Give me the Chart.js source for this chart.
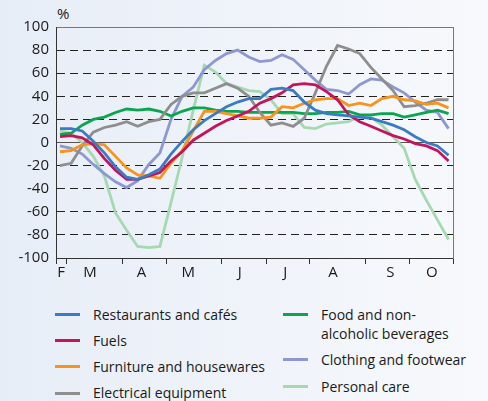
<!DOCTYPE html>
<html>
<head>
<meta charset="utf-8">
<script src="https://cdn.jsdelivr.net/npm/chart.js@4"></script>
<style>
  html, body { margin: 0; padding: 0; }
  body {
    width: 488px; height: 401px; overflow: hidden; position: relative;
    background: linear-gradient(to right, #e7edf7, #f7f9fc);
    font-family: "Open Sans", sans-serif; color: #1a1a1a;
  }
  #chart { position: absolute; left: 0; top: 0; }
  #unit { position: absolute; left: 57px; top: 3px; font-size: 15px; }
  .col { position: absolute; top: 304.6px; }
  .item { position: relative; font-size: 14px; line-height: 19.4px; margin-bottom: 6.9px; white-space: nowrap; }
  .swatch { position: absolute; top: 8.2px; height: 3px; width: 25px; }
</style>
</head>
<body>
<div id="unit">%</div>
<canvas id="chart" width="488" height="290"></canvas>
<div class="col" id="col1" style="left:55px"></div>
<div class="col" id="col2" style="left:283px"></div>
<script>
// weekly index, Feb to Oct
const weeks = Array.from({ length: 36 }, (_, i) => i);
const monthNames = ['F', 'M', 'A', 'M', 'J', 'J', 'A', 'S', 'O'];
const monthEdges = [-0.36, 0.63, 5.59, 9.56, 14.52, 18.58, 22.45, 27.5, 31.47, 35.4];
const monthMids = [0.1, 2.7, 7.35, 11.55, 16.2, 20.3, 24.6, 29.75, 33.5];

const restaurants = [12, 12, 10, 1, -9, -21, -30, -32, -28, -23, -10, 1, 11, 19, 25, 31, 35, 38, 38, 46,
  47, 45, 35, 28, 25, 24, 23, 22, 21, 18, 15, 11, 5, 0, -3, -11];
const fuels = [5, 6, 4, -2, -14, -24, -32, -32, -29, -26, -16, -8, 2, 8, 14, 19, 23, 27, 34, 38,
  43, 50, 51, 50, 44, 37, 24, 18, 14, 10, 6, 3, -1, -3, -7, -16];
const furniture = [-8, -7, -2, -1, -2, -12, -22, -28, -29, -31, -18, -7, 10, 27, 27, 25, 23, 21, 21, 22,
  31, 30, 34, 37, 38, 38, 32, 34, 32, 38, 40, 37, 36, 33, 34, 30];
const electrical = [-20, -18, -3, 9, 13, 15, 18, 14, 18, 20, 33, 40, 43, 43, 47, 51, 47, 40, 26, 15,
  17, 14, 21, 43, 66, 84, 81, 77, 65, 55, 45, 31, 32, 34, 37, 37];
const food = [7, 8, 15, 20, 22, 26, 29, 28, 29, 27, 23, 27, 30, 30, 28, 27, 27, 26, 26, 26,
  26, 26, 25, 25, 26, 26, 27, 24, 24, 25, 25, 22, 24, 26, 28, 25];
const clothing = [-3, -5, -10, -19, -27, -34, -39, -33, -19, -9, 20, 40, 48, 63, 71, 77, 80, 74, 70, 71,
  76, 72, 63, 54, 46, 45, 42, 50, 55, 54, 48, 43, 35, 28, 26, 12];
const personalCare = [10, 8, 0, -12, -29, -61, -76, -90, -91, -90, -52, -13, 28, 67, 61, 51, 48, 45, 44, 37,
  25, 25, 13, 12, 16, 17, 18, 23, 22, 15, 5, -5, -32, -50, -67, -84];

const series = [
  { label: ['Restaurants and cafés'], values: restaurants, color: '#3a7cc3', col: 'col1' },
  { label: ['Fuels'], values: fuels, color: '#c4145c', col: 'col1' },
  { label: ['Furniture and housewares'], values: furniture, color: '#f7941d', col: 'col1' },
  { label: ['Electrical equipment'], values: electrical, color: '#8e8e8e', col: 'col1' },
  { label: ['Food and non-', 'alcoholic beverages'], values: food, color: '#0aa64f', col: 'col2' },
  { label: ['Clothing and footwear'], values: clothing, color: '#8e98d0', col: 'col2' },
  { label: ['Personal care'], values: personalCare, color: '#a6d9b1', col: 'col2' }
];

const textColor = '#1a1a1a';
const tickFont = { family: 'Open Sans', size: 15 };

new Chart(document.getElementById('chart'), {
  type: 'line',
  data: {
    datasets: series.map(s => ({
      label: s.label.join(''),
      data: s.values.map((v, i) => ({ x: weeks[i], y: v })),
      borderColor: s.color,
      borderWidth: 2.8,
      pointRadius: 0,
      tension: 0,
      fill: false
    }))
  },
  options: {
    responsive: false,
    animation: false,
    layout: { padding: { left: 0, top: 27, right: 35, bottom: 0 } },
    plugins: { legend: { display: false }, tooltip: { enabled: false } },
    scales: {
      x: {
        type: 'linear',
        min: monthEdges[0],
        max: monthEdges[monthEdges.length - 1],
        afterBuildTicks: s => {
          s.ticks = monthEdges.concat(monthMids).sort((a, b) => a - b).map(v => ({ value: v }));
        },
        afterFit: s => { s.height = 32; },
        ticks: {
          autoSkip: false, maxRotation: 0, padding: 0, color: textColor, font: tickFont,
          callback: v => {
            const k = monthMids.indexOf(v);
            return k < 0 ? '' : monthNames[k];
          }
        },
        grid: {
          drawOnChartArea: false,
          tickLength: 6,
          color: c => (c.tick && monthEdges.includes(c.tick.value)) ? '#333' : 'rgba(0,0,0,0)'
        },
        border: { color: '#333', width: 1 }
      },
      y: {
        min: -100,
        max: 100,
        afterFit: s => { s.width = 56; },
        ticks: { stepSize: 20, padding: 7, color: textColor, font: tickFont },
        grid: {
          drawTicks: false,
          color: c => {
            const v = c.tick && c.tick.value;
            if (v === 0) return '#555';
            if (v === 100) return '#777';
            return '#222';
          }
        },
        border: {
          color: '#333',
          dash: c => (c.tick && c.tick.value % 100 !== 0) ? [8, 5] : []
        }
      },
      y2: {
        position: 'right',
        min: -100,
        max: 100,
        afterFit: s => { s.width = 0; },
        ticks: { display: false },
        grid: { display: false, drawTicks: false },
        border: { color: '#777' }
      }
    }
  }
});

// legend in two columns
series.forEach(s => {
  const item = document.createElement('div');
  item.className = 'item';
  item.style.paddingLeft = '38px';
  const sw = document.createElement('span');
  sw.className = 'swatch';
  sw.style.left = '0px';
  sw.style.background = s.color;
  item.appendChild(sw);
  item.appendChild(document.createTextNode(s.label[0]));
  s.label.slice(1).forEach(t => {
    item.appendChild(document.createElement('br'));
    item.appendChild(document.createTextNode(t));
  });
  document.getElementById(s.col).appendChild(item);
});
</script>
</body>
</html>
